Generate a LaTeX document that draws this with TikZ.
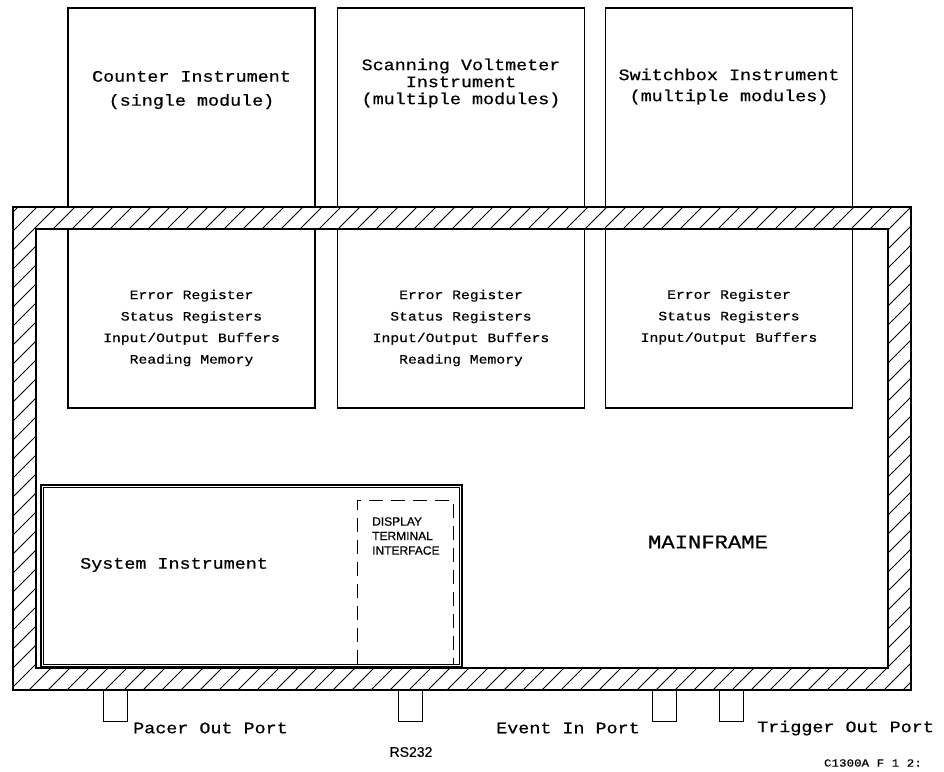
\documentclass[tikz,border=0pt]{standalone}
\usepackage{fontspec}
\setmainfont[FakeStretch=1.15, FakeBold=0.6]{Liberation Mono}
\newfontfamily\plotsans[FakeBold=0.5]{Liberation Sans}
\usetikzlibrary{positioning}
\tikzset{
  instbox/.style={
    rectangle, draw, line width=1.6pt,
    minimum width=247pt, minimum height=400pt, inner sep=0pt
  },
  topname/.style={
    font=\fontsize{16}{#1}\selectfont, align=center, inner sep=0pt
  },
  reglist/.style={
    font=\fontsize{12.8}{21.5}\selectfont, align=center, inner sep=0pt
  },
  bigtext/.style={font=\fontsize{16}{20}\selectfont, inner sep=0pt},
  portbox/.style={
    rectangle, draw, line width=1pt,
    minimum width=24pt, minimum height=31pt, inner sep=0pt
  },
  hatchline/.style={line width=0.9pt},
  frameline/.style={line width=1.3pt},
}

\begin{document}
\begin{tikzpicture}[x=1pt, y=-1pt]
    \useasboundingbox (0,0) rectangle (944,771);

    % instrument modules
    \node[instbox] (counter) at (191.5,208) {};
    \node[instbox] (scanner) at (461,208)   {};
    \node[instbox] (switch)  at (729,208)   {};

    % hatched mainframe wall
    \begin{scope}[even odd rule]
      \clip (13,207) rectangle (911,690) (36,229) rectangle (888,668);
      \fill[white] (13,207) rectangle (911,690);
      \foreach \k in {-27,...,49}
        \draw[hatchline] (\k*19,700) -- ++(520,-520);
    \end{scope}
    \draw[frameline] (13,207) rectangle (911,690);
    \draw[frameline] (36,229) rectangle (888,668);

    % module names
    \node[topname=24] (countername) at (191.5,90) {Counter Instrument\\(single module)};
    \node[topname=17] (scannername) at (461,83)   {Scanning Voltmeter\\Instrument\\(multiple modules)};
    \node[topname=21] (switchname)  at (729,86.5) {Switchbox Instrument\\(multiple modules)};

    % module contents
    \node[reglist] (counterreg) at (191.5,328)
         {Error Register\\Status Registers\\Input/Output Buffers\\Reading Memory};
    \node[reglist] (scannerreg) at (461,328)
         {Error Register\\Status Registers\\Input/Output Buffers\\Reading Memory};
    \node[reglist] (switchreg)  at (729,317)
         {Error Register\\Status Registers\\Input/Output Buffers};

    % system instrument
    \draw[line width=1.3pt] (41,485) rectangle (462,667);
    \draw[line width=1.1pt] (43.5,487.5) rectangle (459.5,664.5);
    \draw[line width=1pt, dash pattern=on 14pt off 8pt] (357,664) -- (357,500) -- (453,500) -- (453,664);
    \node[bigtext, anchor=west] (sysname) at (80,565) {System Instrument};
    \node[font=\plotsans\fontsize{12}{14.5}\selectfont, align=left, anchor=west, inner sep=0pt]
         (display) at (372,536) {DISPLAY\\TERMINAL\\INTERFACE};

    \node[font=\fontsize{19.3}{22}\selectfont, inner sep=0pt] (mainframe) at (708,542) {MAINFRAME};

    % ports
    \node[portbox] (pacer)   at (115,705.5) {};
    \node[portbox] (rs)      at (410,705.5) {};
    \node[portbox] (event)   at (664,705.5) {};
    \node[portbox] (trigger) at (731,705.5) {};

    \node[bigtext, anchor=west] (pacerlabel)   at (133,728) {Pacer Out Port};
    \node[font=\plotsans\fontsize{14}{16}\selectfont, inner sep=0pt] (rslabel) at (411,752) {RS232};
    \node[bigtext, anchor=west] (eventlabel)   at (496,728) {Event In Port};
    \node[bigtext, anchor=west] (triggerlabel) at (757,728) {Trigger Out Port};

    \node[font=\fontsize{10.9}{14}\selectfont, anchor=east, inner sep=0pt] (figno) at (922,763) {C1300A F 1 2:};

  \end{tikzpicture}
\end{document}
